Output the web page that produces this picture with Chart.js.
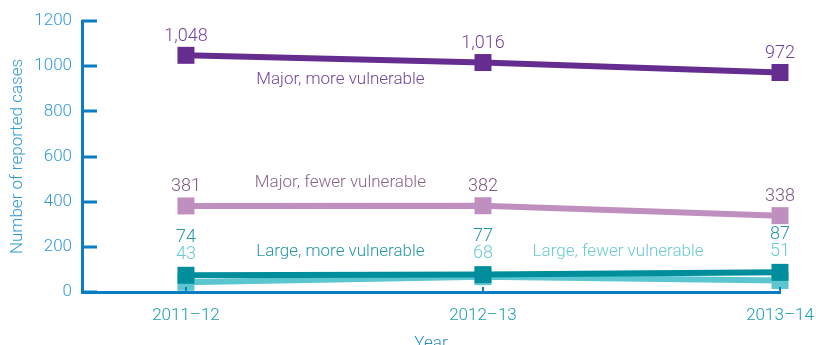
<!DOCTYPE html>
<html>
<head>
<meta charset="utf-8">
<script src="https://cdn.jsdelivr.net/npm/chart.js@4.4.1/dist/chart.umd.min.js"></script>
<style>
  html, body { margin: 0; padding: 0; background: #fff; }
  #wrap { width: 816px; height: 345px; }
</style>
</head>
<body>
<div id="wrap"><canvas id="chart" width="816" height="345"></canvas></div>
<script>
// Chart data
var years = ['2011\u201312', '2012\u201313', '2013\u201314'];
var majorMore = [1048, 1016, 972];
var majorFewer = [381, 382, 338];
var largeMore = [74, 77, 87];
var largeFewer = [43, 68, 51];
var yTicks = [0, 200, 400, 600, 800, 1000, 1200];

var FONT = 'Roboto, "Liberation Sans", Arial, sans-serif';
var AXIS = '#0a7cc2';

// Series names, placed in data space
var seriesNotes = [
    {text: 'Major, more vulnerable', x: 0.52, y: 939, color: '#74449c'},
    {text: 'Major, fewer vulnerable', x: 0.52, y: 483, color: '#8a6487'},
    {text: 'Large, more vulnerable', x: 0.52, y: 177, color: '#2596a6'},
    {text: 'Large, fewer vulnerable', x: 1.455, y: 177, color: '#6ccad3'}
];

function points(values) {
    return values.map(function (v, i) { return {x: i, y: v}; });
}

function series(label, values, color, order) {
    return {
        label: label,
        data: points(values),
        borderColor: color,
        backgroundColor: color,
        borderWidth: 6,
        pointStyle: 'rect',
        pointRadius: 12,
        pointHoverRadius: 12,
        pointBorderWidth: 0,
        tension: 0,
        clip: false,
        order: order
    };
}

// Inward tick marks on both axes
var innerTicks = {
    id: 'innerTicks',
    afterDraw: function (chart) {
        var ctx = chart.ctx, x = chart.scales.x, y = chart.scales.y;
        ctx.save();
        ctx.strokeStyle = AXIS;
        ctx.lineWidth = 3;
        ctx.beginPath();
        y.ticks.forEach(function (t) {
            var py = Math.round(y.getPixelForValue(t.value));
            ctx.moveTo(x.left, py);
            ctx.lineTo(x.left + 15, py);
        });
        ctx.stroke();
        ctx.lineWidth = 2;
        ctx.beginPath();
        x.ticks.forEach(function (t) {
            var px = Math.round(x.getPixelForValue(t.value));
            ctx.moveTo(px, y.bottom);
            ctx.lineTo(px, y.bottom - 5);
        });
        ctx.stroke();
        ctx.restore();
    }
};

// Value labels and series names
var labelsPlugin = {
    id: 'labelsPlugin',
    afterDatasetsDraw: function (chart) {
        var ctx = chart.ctx, xs = chart.scales.x, ys = chart.scales.y;
        var m0 = chart.getDatasetMeta(0), m1 = chart.getDatasetMeta(1);
        var m2 = chart.getDatasetMeta(2), m3 = chart.getDatasetMeta(3);
        ctx.save();
        ctx.font = '300 18px ' + FONT;
        ctx.textAlign = 'center';
        ctx.textBaseline = 'middle';
        years.forEach(function (yr, i) {
            ctx.fillStyle = '#74449c';
            ctx.fillText(majorMore[i].toLocaleString('en-US'), m0.data[i].x, m0.data[i].y - 19);
            ctx.fillStyle = '#7e5a80';
            ctx.fillText(majorFewer[i].toLocaleString('en-US'), m1.data[i].x, m1.data[i].y - 19);
            var top = Math.min(m2.data[i].y, m3.data[i].y);
            ctx.fillStyle = '#2596a6';
            ctx.fillText(largeMore[i], m2.data[i].x, top - 38);
            ctx.fillStyle = '#6ccad3';
            ctx.fillText(largeFewer[i], m3.data[i].x, top - 21);
        });
        ctx.font = '300 17px ' + FONT;
        seriesNotes.forEach(function (n) {
            ctx.fillStyle = n.color;
            ctx.fillText(n.text, xs.getPixelForValue(n.x), ys.getPixelForValue(n.y));
        });
        ctx.restore();
    }
};

new Chart(document.getElementById('chart'), {
    type: 'line',
    data: {
        datasets: [
            series('Major, more vulnerable', majorMore, '#662d91', 1),
            series('Major, fewer vulnerable', majorFewer, '#bf8fc0', 2),
            series('Large, more vulnerable', largeMore, '#008d9c', 3),
            series('Large, fewer vulnerable', largeFewer, '#5bc6cf', 4)
        ]
    },
    options: {
        responsive: false,
        animation: false,
        layout: {padding: {top: 21, right: 36, left: 0, bottom: 0}},
        plugins: {legend: {display: false}, tooltip: {enabled: false}},
        scales: {
            x: {
                type: 'linear',
                min: -0.35,
                max: 2,
                afterBuildTicks: function (s) {
                    s.ticks = years.map(function (y, i) { return {value: i}; });
                },
                afterFit: function (s) {
                    s.height = 53;
                    s.paddingLeft = 0;
                    s.paddingRight = 0;
                },
                grid: {display: false, drawTicks: false},
                border: {color: AXIS, width: 3},
                ticks: {
                    padding: 14,
                    color: '#1a9cb0',
                    font: {family: FONT, size: 17, weight: '300'},
                    callback: function (v) { return years[v]; }
                },
                title: {
                    display: true,
                    text: 'Year',
                    color: '#2a8fc9',
                    font: {family: FONT, size: 17, weight: '300'},
                    padding: {top: 0, bottom: -9}
                }
            },
            y: {
                min: 0,
                max: 1200,
                afterBuildTicks: function (s) {
                    s.ticks = yTicks.map(function (v) { return {value: v}; });
                },
                afterFit: function (s) { s.width = 82; },
                grid: {display: false, drawTicks: false},
                border: {color: AXIS, width: 3},
                ticks: {
                    padding: 10,
                    color: '#3399d6',
                    font: {family: FONT, size: 17, weight: '300'},
                    callback: function (v) { return String(v); }
                },
                title: {
                    display: true,
                    text: 'Number of reported cases',
                    color: '#3399d6',
                    font: {family: FONT, size: 17, weight: '300'},
                    padding: {top: 8, bottom: 0}
                }
            }
        }
    },
    plugins: [innerTicks, labelsPlugin]
});
</script>
</body>
</html>
